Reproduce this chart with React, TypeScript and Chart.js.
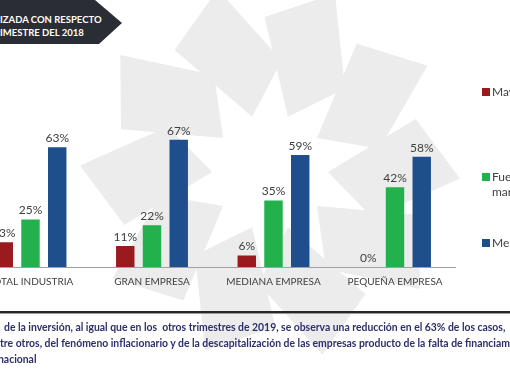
import React, { useEffect, useRef } from 'react';
import { Chart, registerables } from 'chart.js';

Chart.register(...registerables);

const categories = ['TOTAL INDUSTRIA', 'GRAN EMPRESA', 'MEDIANA EMPRESA', 'PEQUEÑA EMPRESA'];
const seriesNames = ['Mayor', 'Fue igual', 'Menor'];
const legendLines = [['Mayor'], ['Fue igual o', 'marginal'], ['Menor']];
const mayorValues = [13, 11, 6, 0];
const igualValues = [25, 22, 35, 42];
const menorValues = [63, 67, 59, 58];
const seriesColors = ['#9a1b1e', '#22b14c', '#1f4e8c'];

const titleLines = ['IZADA CON RESPECTO', 'IMESTRE DEL 2018'];
const noteLines = [
  'de la inversión, al igual que en los  otros trimestres de 2019, se observa una reducción en el 63% de los casos,',
  'tre otros, del fenómeno inflacionario y de la descapitalización de las empresas producto de la falta de financiamiento',
  'nacional',
];

const valueLabels = {
  id: 'valueLabels',
  afterDatasetsDraw(chart: any) {
    const ctx = chart.ctx;
    ctx.save();
    ctx.font = '12px Lato';
    ctx.fillStyle = '#404040';
    ctx.textAlign = 'center';
    ctx.textBaseline = 'bottom';
    chart.data.datasets.forEach((ds: any, i: number) => {
      const meta = chart.getDatasetMeta(i);
      meta.data.forEach((bar: any, j: number) => {
        ctx.fillText(ds.data[j] + '%', bar.x, bar.y - 3);
      });
    });
    ctx.restore();
  },
};

function bladePoints(cx: number, cy: number, angleDeg: number) {
  const base: [number, number][] = [
    [58, 0],
    [155, -20],
    [190, 2],
    [112, 24],
  ];
  return base
    .map(([r, a]) => {
      const t = ((angleDeg + a) * Math.PI) / 180;
      return `${(cx + r * Math.cos(t)).toFixed(1)},${(cy + r * Math.sin(t)).toFixed(1)}`;
    })
    .join(' ');
}

const bladeAngles = [0, 36, 72, 108, 144, 180, 216, 252, 288, 324];

export default function App() {
  const canvasRef = useRef<HTMLCanvasElement | null>(null);

  useEffect(() => {
    const canvas = canvasRef.current;
    if (!canvas) return;
    const chart = new Chart(canvas, {
      type: 'bar',
      data: {
        labels: categories,
        datasets: [
          { label: seriesNames[0], data: mayorValues, backgroundColor: seriesColors[0], borderWidth: 0 },
          { label: seriesNames[1], data: igualValues, backgroundColor: seriesColors[1], borderWidth: 0 },
          { label: seriesNames[2], data: menorValues, backgroundColor: seriesColors[2], borderWidth: 0 },
        ],
      },
      options: {
        responsive: false,
        animation: false,
        layout: { padding: { left: 9.75, right: 54.25, top: 77, bottom: 85 } },
        datasets: { bar: { categoryPercentage: 0.66, barPercentage: 0.69 } },
        plugins: { legend: { display: false }, tooltip: { enabled: false } },
        scales: {
          x: {
            grid: { display: false, drawTicks: false },
            border: { display: true, color: '#a0a0a0', width: 1 },
            ticks: { color: '#404040', font: { size: 10, family: 'Lato' }, padding: 9 },
          },
          y: { display: false, min: 0, max: 100 },
        },
      } as any,
      plugins: [valueLabels],
    });
    return () => chart.destroy();
  }, []);

  const legendTops = [85, 170, 236];

  return (
    <div
      style={{
        position: 'fixed',
        left: 0,
        top: 0,
        width: 510,
        height: 382,
        overflow: 'hidden',
        background: '#ffffff',
        fontFamily: 'Lato, sans-serif',
      }}
    >
      <svg width={510} height={382} style={{ position: 'absolute', left: 0, top: 0 }}>
        {bladeAngles.map((a) => (
          <polygon key={a} points={bladePoints(270, 172, a)} fill="#ececec" />
        ))}
      </svg>
      <svg width={140} height={50} style={{ position: 'absolute', left: 0, top: 0 }}>
        <polygon points="0,0 95,0 122,23 99,44 0,44" fill="#2a2d33" />
      </svg>
      <div
        style={{
          position: 'absolute',
          left: 0,
          top: 13,
          color: '#ffffff',
          fontWeight: 700,
          fontSize: 9.5,
          lineHeight: '13px',
          whiteSpace: 'nowrap',
        }}
      >
        {titleLines.map((t) => (
          <div key={t}>{t}</div>
        ))}
      </div>
      <canvas
        ref={canvasRef}
        width={550}
        height={382}
        style={{ position: 'absolute', left: -40, top: 0, width: 550, height: 382 }}
      />
      {legendLines.map((lines, i) => (
        <div key={i}>
          <div
            style={{
              position: 'absolute',
              left: 482,
              top: legendTops[i] + 3,
              width: 8,
              height: 8,
              background: seriesColors[i],
            }}
          />
          <div
            style={{
              position: 'absolute',
              left: 492,
              top: legendTops[i],
              fontSize: 12,
              lineHeight: '14.5px',
              color: '#404040',
              whiteSpace: 'nowrap',
            }}
          >
            {lines.map((l) => (
              <div key={l}>{l}</div>
            ))}
          </div>
        </div>
      ))}
      <div style={{ position: 'absolute', left: 0, top: 311, width: 510, height: 2, background: '#262626' }} />
      <div style={{ position: 'absolute', left: 0, top: 313, width: 510, height: 1, background: '#9a9a9a' }} />
      {noteLines.map((t, i) => (
        <div
          key={i}
          style={{
            position: 'absolute',
            left: i === 0 ? 4 : i === 1 ? 0 : -2,
            top: 319 + i * 16,
            fontSize: 10.4,
            fontWeight: 700,
            lineHeight: '16px',
            color: '#2d2f6b',
            whiteSpace: 'pre',
          }}
        >
          {t}
        </div>
      ))}
    </div>
  );
}
